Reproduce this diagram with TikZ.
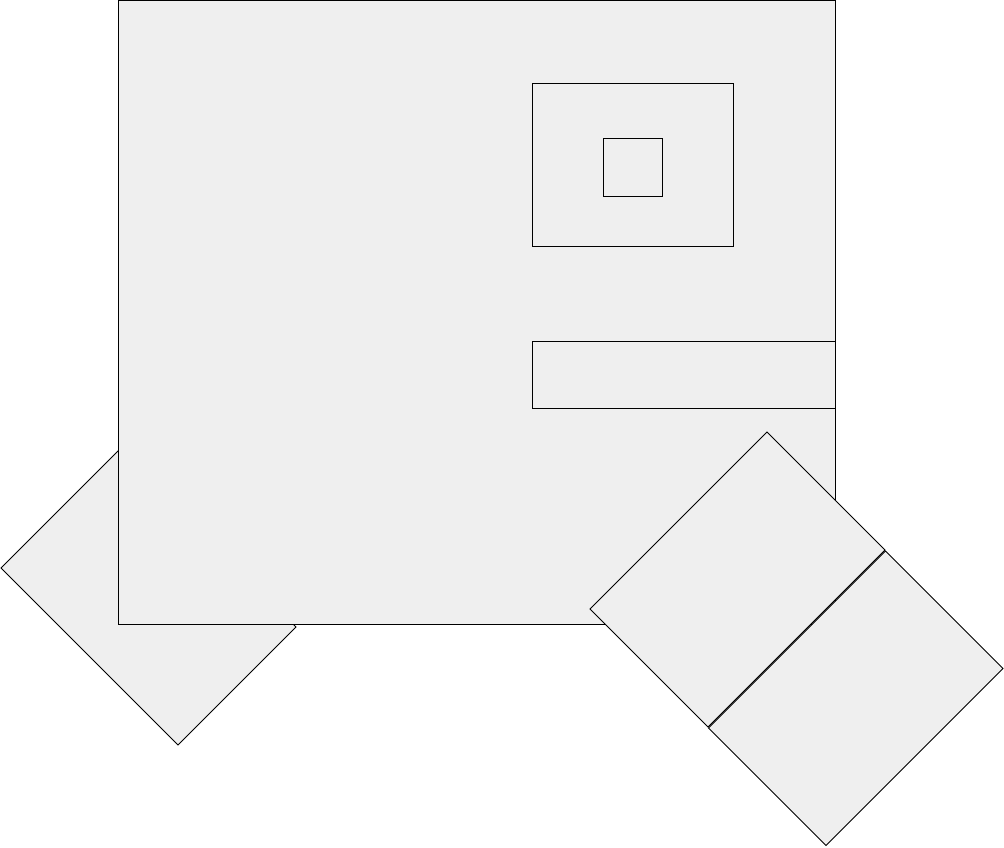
\documentclass[tikz,border=0pt]{standalone}
\definecolor{panel}{HTML}{EFEFEF}
\tikzset{panelshape/.style={fill=panel,draw=black,line width=1pt,line join=miter}}
\begin{document}
\begin{tikzpicture}[x=1pt,y=-1pt]
\useasboundingbox (0,0) rectangle (1004,848);
% left tilted rectangle (behind)
\draw[panelshape] (119,450) -- (296,627) -- (178,745) -- (1,568) -- cycle;
% main panel
\draw[panelshape] (118.5,0.5) rectangle (835,624);
% inner rectangle and square
\draw[panelshape] (532.5,83.5) rectangle (733.5,246.5);
\draw[panelshape] (603.5,138.5) rectangle (662.5,196.5);
% bar
\draw[panelshape] (532.5,341.5) rectangle (835,408);
% right tilted rectangles
\draw[panelshape] (767,432) -- (885,550) -- (708,727) -- (590,609) -- cycle;
\draw[panelshape] (885.5,551) -- (1003,668.5) -- (826,845.5) -- (708.5,728) -- cycle;
\end{tikzpicture}
\end{document}
